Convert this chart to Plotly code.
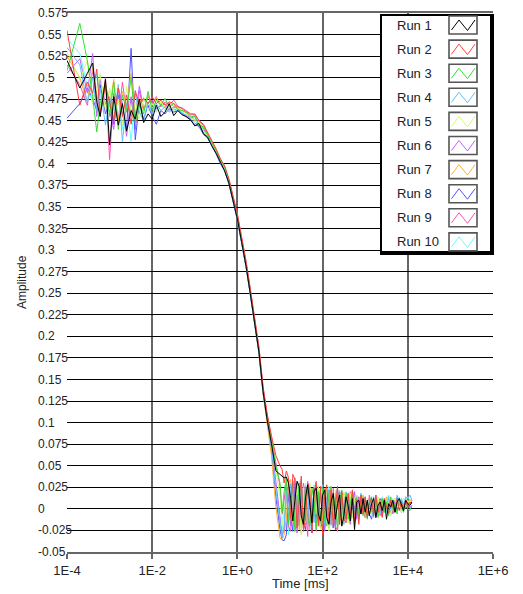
import plotly.graph_objects as go

# Correlator lag times (ms), shared by all runs
time_ms = [
    1e-4, 2e-4, 3e-4, 4e-4, 5e-4, 6e-4, 8e-4,
    1e-3, 1.25e-3, 1.6e-3, 2e-3, 2.5e-3, 3.2e-3, 4e-3, 5e-3, 6.3e-3, 8e-3,
    0.01, 0.0125, 0.016, 0.02, 0.025, 0.032, 0.04, 0.05, 0.063, 0.08,
    0.1, 0.125, 0.16, 0.2, 0.25, 0.32, 0.4, 0.5, 0.63, 0.8,
    1, 1.25, 1.6, 2, 2.5, 3.2, 4, 5, 6.3, 8,
    10, 11.2, 12.5, 14.1, 15.8, 17.8, 20, 22.4, 25.1, 28.2,
    31.6, 35.5, 39.8, 44.7, 50.1, 56.2, 63.1, 70.8, 79.4, 89.1,
    100, 112, 125, 141, 158, 178, 200, 224, 251, 282,
    316, 355, 398, 447, 501, 562, 631, 708, 794, 891,
    1000, 1120, 1250, 1410, 1580, 1780, 2000, 2240, 2510, 2820,
    3160, 3550, 3980, 4470, 5010, 5620, 6310, 7080, 7940, 8910,
    10000, 11200, 12500,
]

run_1 = [
    0.520, 0.488, 0.505, 0.517, 0.472, 0.455, 0.498,
    0.422, 0.478, 0.445, 0.470, 0.438, 0.462, 0.452, 0.475, 0.448, 0.458,
    0.452, 0.468, 0.455, 0.460, 0.470, 0.456, 0.462, 0.457, 0.455, 0.451,
    0.444, 0.447, 0.435, 0.431, 0.421, 0.412, 0.401, 0.392, 0.378, 0.356,
    0.336, 0.310, 0.281, 0.250, 0.218, 0.182, 0.136, 0.103, 0.076, 0.044,
    0.040, 0.038, 0.036, 0.037, 0.030, 0.012, -0.014, 0.010, 0.032, 0.026,
    -0.008, -0.018, 0.014, 0.028, 0.004, -0.016, 0.020, 0.024, -0.006, -0.014,
    0.016, 0.022, -0.010, -0.018, 0.008, 0.018, -0.012, 0.006, 0.016, -0.020,
    -0.008, 0.014, 0.004, -0.014, 0.012, -0.024, 0.008, 0.010, -0.006, 0.012,
    -0.004, 0.010, -0.008, 0.006, 0.012, -0.010, 0.004, 0.008, -0.002, 0.010,
    -0.012, 0.006, 0.002, 0.010, -0.004, 0.008, 0.012, 0.004, -0.002, 0.010,
    0.006, 0.004, 0.008,
]
run_2 = [
    0.555, 0.468, 0.495, 0.482, 0.510, 0.458, 0.490,
    0.472, 0.450, 0.488, 0.455, 0.480, 0.446, 0.485, 0.468, 0.476, 0.470,
    0.478, 0.470, 0.474, 0.468, 0.472, 0.470, 0.466, 0.465, 0.462, 0.458,
    0.458, 0.450, 0.446, 0.436, 0.427, 0.417, 0.406, 0.398, 0.383, 0.362,
    0.342, 0.316, 0.287, 0.256, 0.224, 0.188, 0.142, 0.110, 0.085, 0.062,
    0.050, 0.046, 0.030, 0.044, 0.036, -0.012, 0.040, 0.034, -0.022, 0.012,
    0.038, -0.026, -0.010, 0.030, 0.022, -0.028, 0.018, 0.032, -0.020, 0.026,
    -0.030, 0.014, 0.028, -0.016, 0.022, -0.022, 0.004, 0.026, -0.018, 0.020,
    -0.012, -0.016, 0.018, -0.008, 0.022, -0.014, 0.010, -0.018, 0.016, -0.006,
    0.014, -0.010, 0.006, 0.012, -0.008, 0.016, -0.004, 0.008, -0.010, 0.012,
    0.002, -0.006, 0.010, 0.004, -0.004, 0.012, -0.002, 0.008, 0.000, 0.010,
    0.002, 0.008, 0.006,
]
run_3 = [
    0.508, 0.563, 0.520, 0.478, 0.437, 0.470, 0.492,
    0.455, 0.495, 0.440, 0.480, 0.462, 0.500, 0.448, 0.470, 0.458, 0.484,
    0.462, 0.474, 0.468, 0.476, 0.466, 0.470, 0.463, 0.462, 0.460, 0.454,
    0.456, 0.445, 0.443, 0.434, 0.425, 0.415, 0.404, 0.396, 0.381, 0.359,
    0.339, 0.313, 0.284, 0.253, 0.221, 0.185, 0.139, 0.107, 0.080, 0.050,
    0.030, -0.004, 0.020, 0.036, -0.018, 0.010, 0.032, -0.026, -0.012, 0.030,
    0.018, -0.022, 0.026, -0.010, -0.020, 0.024, 0.010, -0.024, 0.020, -0.016,
    0.024, -0.012, -0.020, 0.018, 0.026, -0.016, 0.014, -0.024, 0.010, 0.022,
    -0.014, 0.018, -0.012, 0.006, 0.020, -0.018, 0.012, -0.010, 0.016, -0.008,
    0.012, -0.012, 0.006, 0.014, -0.006, 0.010, -0.010, 0.004, 0.012, -0.004,
    0.008, -0.008, 0.014, 0.000, 0.006, -0.006, 0.010, 0.002, -0.004, 0.008,
    0.000, -0.002, 0.004,
]
run_4 = [
    0.535, 0.515, 0.470, 0.500, 0.462, 0.488, 0.445,
    0.478, 0.452, 0.492, 0.426, 0.470, 0.455, 0.482, 0.460, 0.450, 0.472,
    0.458, 0.470, 0.462, 0.466, 0.460, 0.464, 0.461, 0.459, 0.456, 0.452,
    0.447, 0.446, 0.436, 0.431, 0.422, 0.412, 0.401, 0.393, 0.378, 0.356,
    0.336, 0.310, 0.281, 0.250, 0.218, 0.182, 0.136, 0.102, 0.072, 0.022,
    -0.020, -0.034, -0.020, 0.024, -0.010, 0.030, 0.018, -0.026, 0.016, -0.012,
    0.034, -0.018, 0.022, 0.026, -0.024, 0.012, -0.016, 0.028, -0.010, 0.020,
    0.028, -0.018, 0.010, 0.022, -0.012, -0.022, 0.016, 0.024, -0.010, 0.012,
    -0.018, 0.020, 0.008, -0.014, 0.022, -0.006, 0.014, -0.012, 0.018, 0.002,
    0.014, -0.008, 0.010, 0.002, -0.010, 0.016, 0.004, -0.006, 0.012, 0.006,
    -0.004, 0.014, 0.000, 0.010, -0.002, 0.016, 0.006, 0.012, 0.002, 0.014,
    0.012, 0.016, 0.010,
]
run_5 = [
    0.530, 0.498, 0.520, 0.470, 0.490, 0.505, 0.462,
    0.488, 0.458, 0.475, 0.445, 0.490, 0.460, 0.472, 0.452, 0.478, 0.462,
    0.470, 0.462, 0.472, 0.464, 0.468, 0.462, 0.465, 0.461, 0.457, 0.455,
    0.449, 0.449, 0.438, 0.433, 0.424, 0.414, 0.403, 0.394, 0.380, 0.357,
    0.338, 0.312, 0.283, 0.252, 0.220, 0.184, 0.138, 0.106, 0.080, 0.046,
    0.014, -0.020, -0.006, 0.022, 0.032, -0.012, 0.020, -0.024, 0.028, 0.006,
    -0.030, 0.024, -0.016, 0.012, 0.030, -0.022, 0.018, -0.006, 0.026, -0.024,
    -0.020, 0.018, 0.024, -0.026, 0.010, -0.014, 0.022, -0.008, 0.016, -0.020,
    0.020, 0.004, -0.016, 0.018, -0.010, 0.012, 0.016, -0.012, 0.010, -0.004,
    -0.004, 0.012, 0.004, -0.008, 0.010, 0.000, 0.014, -0.006, 0.008, 0.012,
    -0.002, 0.010, -0.008, 0.006, 0.012, 0.002, 0.010, -0.004, 0.008, 0.004,
    0.010, 0.006, 0.004,
]
run_6 = [
    0.505, 0.522, 0.482, 0.528, 0.455, 0.498, 0.470,
    0.462, 0.440, 0.488, 0.470, 0.432, 0.478, 0.455, 0.490, 0.464, 0.470,
    0.474, 0.464, 0.468, 0.470, 0.462, 0.466, 0.464, 0.458, 0.457, 0.453,
    0.455, 0.443, 0.441, 0.432, 0.423, 0.413, 0.402, 0.394, 0.379, 0.357,
    0.337, 0.311, 0.282, 0.251, 0.219, 0.183, 0.137, 0.104, 0.074, 0.032,
    -0.008, -0.030, -0.024, 0.020, 0.026, -0.020, 0.014, 0.030, -0.028, 0.010,
    -0.014, 0.024, -0.018, 0.032, 0.008, -0.024, 0.020, -0.012, 0.026, -0.020,
    0.018, -0.026, 0.012, 0.022, -0.018, 0.006, -0.022, 0.014, 0.020, -0.016,
    0.010, -0.010, 0.016, -0.018, 0.008, 0.020, -0.012, 0.014, -0.006, 0.012,
    0.010, -0.008, 0.012, -0.004, 0.014, -0.010, 0.006, 0.002, -0.006, 0.012,
    -0.002, 0.008, 0.004, -0.006, 0.010, 0.000, 0.012, -0.004, 0.008, 0.006,
    0.006, 0.002, 0.004,
]
run_7 = [
    0.525, 0.500, 0.472, 0.512, 0.478, 0.460, 0.495,
    0.465, 0.498, 0.450, 0.484, 0.468, 0.505, 0.455, 0.476, 0.462, 0.480,
    0.468, 0.476, 0.470, 0.466, 0.471, 0.467, 0.466, 0.462, 0.459, 0.456,
    0.450, 0.450, 0.440, 0.434, 0.425, 0.415, 0.404, 0.395, 0.381, 0.359,
    0.337, 0.311, 0.282, 0.251, 0.218, 0.181, 0.134, 0.099, 0.062, 0.002,
    -0.034, -0.036, -0.030, -0.010, 0.030, 0.034, -0.016, 0.012, 0.030, -0.024,
    -0.006, 0.026, -0.020, 0.018, 0.028, -0.018, 0.006, 0.026, -0.016, 0.022,
    -0.014, 0.024, 0.008, -0.020, 0.026, -0.006, -0.012, 0.022, -0.018, 0.020,
    0.012, -0.006, 0.018, -0.016, 0.014, 0.020, -0.010, 0.014, -0.004, 0.016,
    -0.010, 0.008, 0.012, -0.006, 0.004, 0.012, -0.004, 0.010, 0.006, -0.002,
    0.014, 0.002, 0.008, -0.004, 0.012, 0.004, 0.010, 0.006, 0.002, 0.012,
    0.006, 0.010, 0.008,
]
run_8 = [
    0.453, 0.470, 0.488, 0.476, 0.462, 0.492, 0.458,
    0.472, 0.446, 0.480, 0.458, 0.440, 0.534, 0.428, 0.470, 0.452, 0.468,
    0.455, 0.446, 0.462, 0.458, 0.464, 0.460, 0.462, 0.458, 0.455, 0.451,
    0.445, 0.444, 0.434, 0.430, 0.421, 0.411, 0.400, 0.392, 0.377, 0.355,
    0.335, 0.309, 0.280, 0.249, 0.217, 0.181, 0.134, 0.099, 0.068, 0.014,
    -0.024, -0.036, -0.037, -0.030, 0.018, -0.008, -0.026, 0.026, 0.014, -0.020,
    0.030, -0.014, -0.024, 0.020, 0.010, -0.028, 0.024, -0.010, 0.016, -0.022,
    -0.016, 0.024, -0.010, -0.022, 0.016, 0.004, -0.024, 0.020, -0.008, -0.014,
    0.018, -0.012, 0.010, -0.016, 0.014, -0.004, 0.012, -0.010, 0.008, 0.012,
    -0.010, 0.010, -0.006, -0.012, 0.006, 0.002, -0.004, 0.012, -0.008, 0.006,
    0.000, 0.010, -0.006, 0.004, 0.008, -0.002, 0.006, 0.002, 0.008, 0.000,
    0.004, 0.000, 0.002,
]
run_9 = [
    0.515, 0.492, 0.468, 0.508, 0.480, 0.455, 0.500,
    0.405, 0.482, 0.450, 0.495, 0.460, 0.476, 0.440, 0.485, 0.462, 0.478,
    0.470, 0.478, 0.466, 0.472, 0.468, 0.474, 0.467, 0.464, 0.461, 0.457,
    0.457, 0.451, 0.444, 0.435, 0.426, 0.416, 0.405, 0.397, 0.382, 0.360,
    0.341, 0.315, 0.286, 0.255, 0.223, 0.187, 0.141, 0.109, 0.083, 0.054,
    0.026, -0.006, 0.012, 0.030, -0.020, -0.026, 0.024, 0.036, -0.016, 0.018,
    -0.028, 0.030, 0.008, -0.032, 0.022, -0.012, 0.024, -0.026, 0.010, -0.022,
    0.020, -0.022, 0.012, 0.016, -0.012, 0.024, -0.020, -0.026, 0.018, 0.006,
    -0.014, 0.016, -0.008, 0.020, -0.010, 0.004, 0.016, -0.012, 0.010, 0.014,
    0.008, -0.010, 0.016, 0.002, -0.006, 0.012, 0.010, -0.008, 0.006, 0.012,
    0.002, -0.004, 0.010, 0.006, -0.002, 0.014, 0.004, 0.010, -0.002, 0.008,
    0.008, 0.006, 0.010,
]
run_10 = [
    0.545, 0.528, 0.490, 0.470, 0.505, 0.478, 0.462,
    0.486, 0.462, 0.478, 0.440, 0.472, 0.426, 0.482, 0.458, 0.475, 0.465,
    0.466, 0.460, 0.470, 0.462, 0.466, 0.461, 0.463, 0.460, 0.456, 0.452,
    0.452, 0.442, 0.439, 0.431, 0.422, 0.412, 0.401, 0.392, 0.378, 0.356,
    0.335, 0.309, 0.280, 0.249, 0.217, 0.181, 0.135, 0.100, 0.070, 0.026,
    -0.016, -0.026, 0.010, 0.028, -0.030, 0.020, 0.026, -0.016, -0.004, 0.032,
    -0.022, 0.014, 0.030, -0.018, 0.022, -0.010, 0.028, 0.012, -0.016, 0.024,
    0.022, -0.016, 0.018, 0.026, -0.020, 0.010, -0.014, 0.016, 0.022, -0.010,
    0.014, -0.016, 0.018, 0.006, -0.010, 0.016, 0.004, -0.006, 0.018, 0.010,
    0.012, -0.004, 0.010, 0.014, -0.008, 0.012, 0.004, 0.000, 0.014, -0.004,
    0.010, 0.016, 0.002, 0.012, -0.002, 0.008, 0.014, 0.004, 0.012, 0.010,
    0.014, 0.010, 0.012,
]

runs = [run_1, run_2, run_3, run_4, run_5, run_6, run_7, run_8, run_9, run_10]
run_names = ["Run 1", "Run 2", "Run 3", "Run 4", "Run 5",
             "Run 6", "Run 7", "Run 8", "Run 9", "Run 10"]
run_colors = ["#000000", "#ff4040", "#33e033", "#5ec0ff", "#ccff66",
              "#c060ff", "#ffb030", "#5050ff", "#ff50b0", "#60ffff"]

y_tick_values = [0.575, 0.55, 0.525, 0.5, 0.475, 0.45, 0.425, 0.4, 0.375,
                 0.35, 0.325, 0.3, 0.275, 0.25, 0.225, 0.2, 0.175, 0.15,
                 0.125, 0.1, 0.075, 0.05, 0.025, 0, -0.025, -0.05]
x_tick_values = [1e-4, 1e-2, 1e0, 1e2, 1e4, 1e6]
x_tick_labels = ["1E-4", "1E-2", "1E+0", "1E+2", "1E+4", "1E+6"]

W, H = 523, 594
ML, MR, MT, MB = 67, 30, 13, 42
PW, PH = W - ML - MR, H - MT - MB
FONT = "Liberation Sans, Arial, sans-serif"
TXT = "#222228"


def px(xp):
    return (xp - ML) / PW


def py(yp):
    return (H - MB - yp) / PH


fig = go.Figure()

# draw the later runs first so Run 1 sits on top
for name, color, vals in reversed(list(zip(run_names, run_colors, runs))):
    n = min(len(time_ms), len(vals))
    fig.add_trace(go.Scatter(
        x=time_ms[:n], y=vals[:n], mode="lines", name=name,
        line=dict(color=color, width=1), showlegend=False,
    ))

shapes = []
annotations = []

# y tick labels, left aligned
for v in y_tick_values:
    annotations.append(dict(
        x=px(36), xref="paper", y=v, yref="y", text=f"{v:g}",
        showarrow=False, xanchor="left", yanchor="middle",
        font=dict(family=FONT, size=12, color=TXT),
    ))

# axis titles
annotations.append(dict(
    x=px(300.5), xref="paper", y=py(583), yref="paper", text="Time [ms]",
    showarrow=False, xanchor="center", yanchor="middle",
    font=dict(family=FONT, size=13, color=TXT),
))
annotations.append(dict(
    x=px(22), xref="paper", y=py(282), yref="paper", text="Amplitude",
    showarrow=False, xanchor="center", yanchor="middle", textangle=-90,
    font=dict(family=FONT, size=12, color=TXT),
))

# legend frame
shapes.append(dict(type="rect", xref="paper", yref="paper",
                   x0=px(380), x1=px(494), y0=py(255), y1=py(14),
                   fillcolor="black", line=dict(width=0), layer="above"))
shapes.append(dict(type="rect", xref="paper", yref="paper",
                   x0=px(382), x1=px(490), y0=py(251), y1=py(16),
                   fillcolor="white", line=dict(width=0), layer="above"))

for i, (name, color) in enumerate(zip(run_names, run_colors)):
    c = 25 + 24.1 * i
    annotations.append(dict(
        x=px(395), xref="paper", y=py(c), yref="paper", text=name,
        showarrow=False, xanchor="left", yanchor="middle",
        font=dict(family=FONT, size=13, color=TXT),
    ))
    shapes.append(dict(type="rect", xref="paper", yref="paper",
                       x0=px(449), x1=px(477), y0=py(c + 9), y1=py(c - 9),
                       fillcolor="white", line=dict(color="#555555", width=1.6),
                       layer="above"))
    pts = [(451.5, c + 5), (459, c - 5), (467.5, c + 5.5), (475, c - 5)]
    path = "M " + " L ".join(f"{px(a):.5f},{py(b):.5f}" for a, b in pts)
    shapes.append(dict(type="path", xref="paper", yref="paper", path=path,
                       line=dict(color=color, width=1), layer="above"))

fig.update_layout(
    width=W, height=H,
    margin=dict(l=ML, r=MR, t=MT, b=MB, pad=0),
    paper_bgcolor="white", plot_bgcolor="white",
    showlegend=False,
    shapes=shapes, annotations=annotations,
    xaxis=dict(
        type="log", range=[-4, 6],
        tickvals=x_tick_values, ticktext=x_tick_labels,
        showgrid=True, gridcolor="#666666", gridwidth=2,
        ticks="outside", ticklen=5, tickwidth=2, tickcolor="#666666",
        showline=True, linecolor="#666666", linewidth=2, mirror=True,
        tickfont=dict(family=FONT, size=13, color=TXT),
        zeroline=False,
    ),
    yaxis=dict(
        range=[-0.05, 0.575],
        tickvals=y_tick_values, showticklabels=False, ticks="",
        showgrid=True, gridcolor="#000000", gridwidth=1,
        showline=False, zeroline=False,
    ),
)

fig.write_html("out.html", config={"displayModeBar": False})
